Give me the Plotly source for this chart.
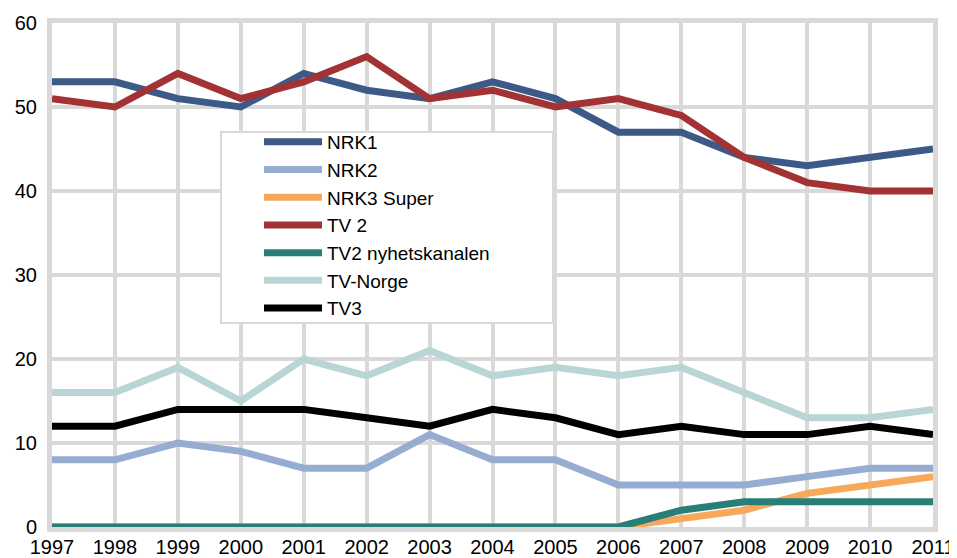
import plotly.graph_objects as go

years = list(range(1997, 2012))
nrk1 = [53, 53, 51, 50, 54, 52, 51, 53, 51, 47, 47, 44, 43, 44, 45]
nrk2 = [8, 8, 10, 9, 7, 7, 11, 8, 8, 5, 5, 5, 6, 7, 7]
nrk3 = [0, 0, 0, 0, 0, 0, 0, 0, 0, 0, 1, 2, 4, 5, 6]
tv2 = [51, 50, 54, 51, 53, 56, 51, 52, 50, 51, 49, 44, 41, 40, 40]
tv2n = [0, 0, 0, 0, 0, 0, 0, 0, 0, 0, 2, 3, 3, 3, 3]
tvnorge = [16, 16, 19, 15, 20, 18, 21, 18, 19, 18, 19, 16, 13, 13, 14]
tv3 = [12, 12, 14, 14, 14, 13, 12, 14, 13, 11, 12, 11, 11, 12, 11]

series = [
    ("NRK1", nrk1, "#3d5a87"),
    ("NRK2", nrk2, "#97acd1"),
    ("NRK3 Super", nrk3, "#f7a85a"),
    ("TV 2", tv2, "#a33234"),
    ("TV2 nyhetskanalen", tv2n, "#2a7e78"),
    ("TV-Norge", tvnorge, "#b9d6d5"),
    ("TV3", tv3, "#000000"),
]

fig = go.Figure()
for name, vals, col in series:
    fig.add_trace(go.Scatter(x=years, y=vals, name=name, mode="lines",
                             line=dict(color=col, width=7)))

# page offset of the plot div (body margin) is 8px
OFF = 8
W, H = 957 - OFF, 558 - OFF
PL, PR, PT, PB = 52, 933, 23, 527  # plot area in page pixels
L, R, T, B = PL - OFF, 957 - PR, PT - OFF, 558 - PB
grid = "#d9d9d9"
fnt = dict(family="Liberation Sans, Arial, sans-serif", size=20, color="#000000")
lfnt = dict(family="Liberation Sans, Arial, sans-serif", size=19, color="#000000")

def px(x):
    return (x - PL) / (PR - PL)

def py(y):
    return (PB - y) / (PB - PT)

fig.update_layout(
    width=W, height=H,
    margin=dict(l=L, r=R, t=T, b=B, autoexpand=False),
    paper_bgcolor="white", plot_bgcolor="white",
    font=fnt,
    showlegend=True,
    legend=dict(x=px(259), y=py(123),
                xanchor="left", yanchor="top",
                bgcolor="rgba(0,0,0,0)", borderwidth=0,
                font=lfnt, itemwidth=58, tracegroupgap=0),
    shapes=[dict(type="rect", xref="paper", yref="paper",
                 x0=px(221), x1=px(553), y0=py(323), y1=py(132),
                 line=dict(color=grid, width=2), fillcolor="white", layer="above")],
    xaxis=dict(range=[1997, 2011], tickmode="array", tickvals=years,
               ticktext=[str(y) for y in years],
               showgrid=True, gridcolor=grid, gridwidth=4,
               showline=True, linecolor=grid, linewidth=5, mirror=True,
               zeroline=False, ticks="", tickfont=fnt, automargin=False,
               ticklabelstandoff=-2),
    yaxis=dict(range=[0, 60], tickvals=[0, 10, 20, 30, 40, 50, 60],
               showgrid=True, gridcolor=grid, gridwidth=4,
               showline=True, linecolor=grid, linewidth=5, mirror=True,
               zeroline=False, ticks="", tickfont=fnt, automargin=False,
               ticklabelstandoff=6),
)

fig.write_html("out.html")
